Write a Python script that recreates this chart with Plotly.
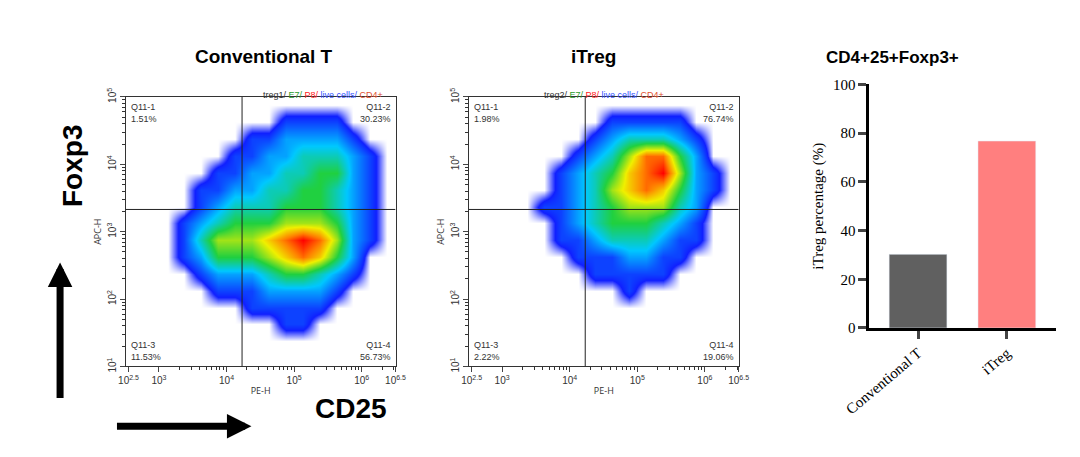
import plotly.graph_objects as go
import numpy as np

W, H = 1080, 457
# density grid, columns = x centres (decade units), rows = y centres (bottom->top)
x_centres = [2.625, 2.875, 3.125, 3.375, 3.625, 3.875, 4.125, 4.375, 4.625, 4.875, 5.125, 5.375, 5.625, 5.875, 6.125, 6.375]
y_centres = [1.125, 1.375, 1.625, 1.875, 2.125, 2.375, 2.625, 2.875, 3.125, 3.375, 3.625, 3.875, 4.125, 4.375, 4.625, 4.875]
conv_density = [
    [0,0,0,0,0,0,0,0,0,0,0,0,0,0,0,0],
    [0,0,0,0,0,0,0,0,0,0,0,0,0,0,0,0],
    [0,0,0,0,0,0,0,0,0,1,1,0,0,0,0,0],
    [0,0,0,0,0,0,0,1,1,1,1,1,0,0,0,0],
    [0,0,0,0,0,1,1,1,2,2,2,2,1,0,0,0],
    [0,0,0,0,1,2,2,2,3,4,4,3,2,1,0,0],
    [0,0,0,1,2,4,4,4,5,6,7,6,4,2,0,0],
    [0,0,0,1,3,5,5,5,6,7,8,7,5,2,1,0],
    [0,0,0,1,2,3,4,4,4,5,5,5,4,2,1,0],
    [0,0,0,0,1,2,3,3,3,4,4,4,3,2,1,0],
    [0,0,0,0,1,1,2,2,3,3,4,4,3,2,1,0],
    [0,0,0,0,0,1,1,2,2,3,3,4,4,2,1,0],
    [0,0,0,0,0,0,1,1,2,2,3,3,3,2,1,0],
    [0,0,0,0,0,0,0,1,1,2,2,2,2,1,0,0],
    [0,0,0,0,0,0,0,0,0,1,1,1,1,0,0,0],
    [0,0,0,0,0,0,0,0,0,0,0,0,0,0,0,0],
]
itreg_density = [
    [0,0,0,0,0,0,0,0,0,0,0,0,0,0,0,0],
    [0,0,0,0,0,0,0,0,0,0,0,0,0,0,0,0],
    [0,0,0,0,0,0,0,0,0,0,0,0,0,0,0,0],
    [0,0,0,0,0,0,0,0,0,0,0,0,0,0,0,0],
    [0,0,0,0,0,0,0,0,0,1,0,0,0,0,0,0],
    [0,0,0,0,0,0,0,1,1,1,1,1,0,0,0,0],
    [0,0,0,0,0,0,1,1,1,2,2,1,1,0,0,0],
    [0,0,0,0,0,1,1,2,3,3,3,2,1,1,0,0],
    [0,0,0,0,0,1,2,3,4,4,4,3,2,1,0,0],
    [0,0,0,0,1,1,2,3,4,5,5,5,3,2,0,0],
    [0,0,0,0,0,1,2,3,5,6,7,6,4,2,1,0],
    [0,0,0,0,0,1,2,3,4,6,7,8,5,2,1,0],
    [0,0,0,0,0,0,1,2,3,5,7,7,4,2,0,0],
    [0,0,0,0,0,0,0,1,2,3,3,3,2,1,0,0],
    [0,0,0,0,0,0,0,0,1,1,1,1,1,0,0,0],
    [0,0,0,0,0,0,0,0,0,0,0,0,0,0,0,0],
]
gate_x, gate_y = 4.23, 3.33
conv_quads = ["1.51%", "30.23%", "11.53%", "56.73%"]
itreg_quads = ["1.98%", "76.74%", "2.22%", "19.06%"]
groups = ["Conventional T", "iTreg"]
percent = [30.23, 76.74]
bar_colors = ["#606060", "#FF7F7F"]

def px_x(p): return p / W
def px_y(p): return 1 - p / H

fig = go.Figure()
cscale = [[0, "white"], [0.08, "#1020ff"], [0.3, "#00c8ff"], [0.5, "#20d040"], [0.7, "#f0f000"], [0.85, "#ff8000"], [1, "#ff0000"]]
for i, dens in enumerate([conv_density, itreg_density]):
    fig.add_trace(go.Heatmap(x=x_centres, y=y_centres, z=dens, zmin=0, zmax=8, zsmooth="best",
                             colorscale=cscale, showscale=False, xaxis=f"x{i+1}", yaxis=f"y{i+1}", hoverinfo="skip"))
fig.add_trace(go.Bar(x=groups, y=percent, marker_color=bar_colors, width=0.65, xaxis="x3", yaxis="y3"))

major_x = [2.55, 3, 4, 5, 6, 6.5]
major_xt = ["10<sup>2.5</sup>", "10<sup>3</sup>", "10<sup>4</sup>", "10<sup>5</sup>", "10<sup>6</sup>", "10<sup>6.5</sup>"]
minor_x = [d + np.log10(k) for d in (3, 4, 5) for k in range(2, 10)] + [6 + np.log10(k) for k in (2, 3)]
minor_y = [d + np.log10(k) for d in (1, 2, 3, 4) for k in range(2, 10)]
panels = [(96, 375), (451, 730)]
for i, (l, r) in enumerate(panels):
    n = i + 1
    fig.layout[f"xaxis{n}"] = dict(domain=[px_x(l), px_x(r)], range=[2.51, 6.5], anchor=f"y{n}",
        tickvals=major_x, ticktext=major_xt, ticks="outside", ticklen=5, showgrid=False, zeroline=False,
        showline=True, linecolor="#333", mirror=True, tickfont=dict(size=10, color="#333", family="Arial"),
        minor=dict(tickvals=minor_x, ticks="outside", ticklen=3, tickcolor="#333"),
        title=dict(text="PE-H", font=dict(size=9, color="#333"), standoff=2))
    fig.layout[f"yaxis{n}"] = dict(domain=[px_y(363), px_y(83)], range=[1, 5], anchor=f"x{n}",
        tickvals=[1, 2, 3, 4, 5], ticktext=[f"10<sup>{k}</sup>" for k in range(1, 6)], tickangle=-90,
        ticks="outside", ticklen=5, showgrid=False, zeroline=False, showline=True, linecolor="#333", mirror=True,
        tickfont=dict(size=10, color="#333", family="Arial"),
        minor=dict(tickvals=minor_y, ticks="outside", ticklen=3, tickcolor="#333"),
        title=dict(text="APC-H", font=dict(size=9, color="#333"), standoff=2))
    fig.add_shape(type="line", xref=f"x{n}", yref=f"y{n}", x0=gate_x, x1=gate_x, y0=1, y1=5, line=dict(color="#222", width=1))
    fig.add_shape(type="line", xref=f"x{n}", yref=f"y{n}", x0=2.51, x1=6.5, y0=gate_y, y1=gate_y, line=dict(color="#222", width=1))
    quads = [conv_quads, itreg_quads][i]
    f = dict(size=9, color="#333", family="Arial")
    for txt_, xa, ya, xanc, yanc in [(f"Q11-1<br>{quads[0]}", l + 3, 86, "left", "top"), (f"Q11-2<br>{quads[1]}", r - 3, 86, "right", "top"),
                                     (f"Q11-3<br>{quads[2]}", l + 3, 360, "left", "bottom"), (f"Q11-4<br>{quads[3]}", r - 3, 360, "right", "bottom")]:
        fig.add_annotation(text=txt_, x=px_x(xa), y=px_y(ya), xref="paper", yref="paper", xanchor=xanc, yanchor=yanc,
                           align=xanc, showarrow=False, font=f)
    name = ["treg1", "treg2"][i]
    fig.add_annotation(text=f"{name}/ <span style='color:#2a9d2a'>E7/</span> <span style='color:#ff2020'>P8/</span> <span style='color:#3050ff'>live cells/</span> <span style='color:#e05030'>CD4+</span>",
                       x=px_x((l + r) / 2), y=px_y(74), xref="paper", yref="paper", showarrow=False, font=dict(size=9, color="#333", family="Arial"))

fig.layout["xaxis3"] = dict(domain=[px_x(865), px_x(1058)], anchor="y3", range=[-0.55, 1.55], showline=True, linecolor="black",
    linewidth=2.5, ticks="outside", ticklen=8, tickwidth=2.5, tickangle=-40, showgrid=False,
    tickfont=dict(size=15, color="black", family="Arial Black"))
fig.layout["yaxis3"] = dict(domain=[px_y(323), px_y(70)], anchor="x3", range=[0, 100], dtick=20, showline=True, linecolor="black",
    linewidth=2.5, ticks="outside", ticklen=8, tickwidth=2.5, showgrid=False, zeroline=False,
    tickfont=dict(size=15, color="black", family="Arial Black"),
    title=dict(text="iTreg percentage (%)", font=dict(size=15, color="black", family="Arial Black"), standoff=6))

def txt(t, x, y, size, angle=0):
    fig.add_annotation(text=f"<b>{t}</b>", x=px_x(x), y=px_y(y), xref="paper", yref="paper", showarrow=False,
                       textangle=angle, font=dict(size=size, color="black", family="Arial"))
txt("Conventional T", 165, 28, 19)
txt("iTreg", 580, 28, 19)
txt("CD4+25+Foxp3+", 960, 30, 17)
txt("Foxp3", 22, 155, 28, -90)
txt("CD25", 290, 425, 28)
fig.add_annotation(x=px_x(28), y=px_y(255), ax=0, ay=137, xref="paper", yref="paper", axref="pixel", ayref="pixel",
                   text="", showarrow=True, arrowhead=2, arrowsize=0.7, arrowwidth=7, arrowcolor="black")
fig.add_annotation(x=px_x(226), y=px_y(425), ax=-136, ay=0, xref="paper", yref="paper", axref="pixel", ayref="pixel",
                   text="", showarrow=True, arrowhead=2, arrowsize=0.7, arrowwidth=7, arrowcolor="black")

fig.update_layout(width=W, height=H, margin=dict(l=0, r=0, t=0, b=0), paper_bgcolor="white", plot_bgcolor="white", showlegend=False)
fig.write_html("out.html")
